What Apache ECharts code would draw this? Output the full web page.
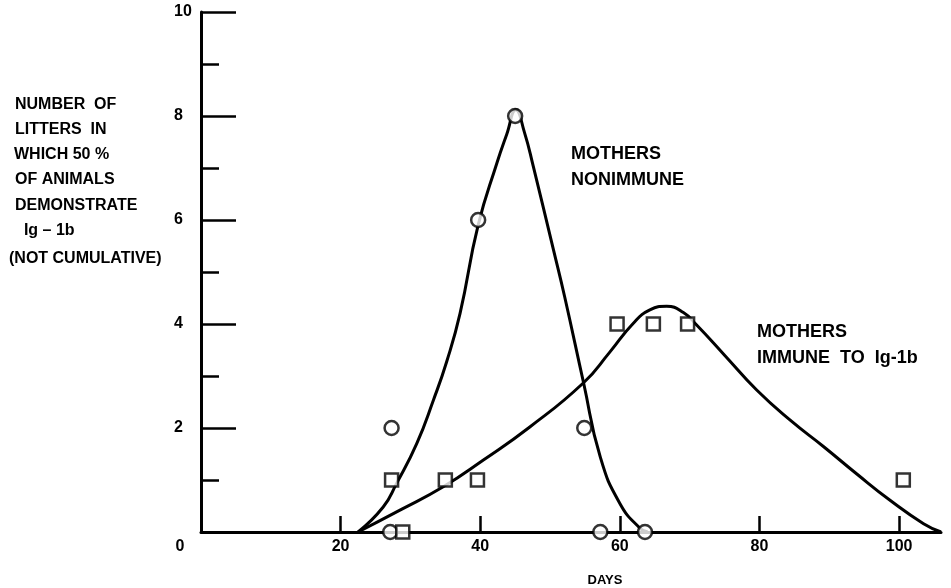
<!DOCTYPE html>
<html>
<head>
<meta charset="utf-8">
<script src="https://cdn.jsdelivr.net/npm/echarts@6/dist/echarts.min.js"></script>
<style>
  html, body { margin: 0; padding: 0; background: #ffffff; }
  #chart { width: 951px; height: 588px; }
</style>
</head>
<body>
<div id="chart"></div>
<script>
// ---- data ----
var xTickValues = [20, 40, 60, 80, 100];
var yTickValues = [2, 4, 6, 8, 10];

// fitted curve, mothers nonimmune (days, litters)
var nonimmuneCurveX = [22.5, 26.1, 28.0, 30.9, 33.3, 35.2, 37.1, 39.7, 42.4, 43.8, 45.1, 46.3, 47.6, 50.5, 52.1, 54.8, 57.2, 60.0, 62.9, 64.0];
var nonimmuneCurveY = [0, 0.48, 0.93, 1.70, 2.54, 3.28, 4.2, 5.9, 7.1, 7.65, 8.12, 7.7, 7.03, 5.42, 4.52, 2.87, 1.44, 0.55, 0.07, 0];

// fitted curve, mothers immune to Ig-1b
var immuneCurveX = [22.5, 28.5, 34.7, 40.4, 47.1, 54.8, 58.5, 61.9, 64.3, 66.7, 69.1, 71.0, 75.0, 79.6, 84.4, 89.2, 93.9, 98.7, 103.5, 106.0];
var immuneCurveY = [0, 0.42, 0.87, 1.38, 2.02, 2.87, 3.45, 4.01, 4.27, 4.34, 4.22, 3.98, 3.40, 2.73, 2.15, 1.64, 1.12, 0.61, 0.16, 0];

// observed points
var nonimmuneX = [27.1, 27.3, 39.7, 45.0, 54.9, 57.2, 63.6];
var nonimmuneY = [0, 2, 6, 8, 2, 0, 0];
var immuneX = [27.3, 28.9, 35.0, 39.6, 59.6, 64.8, 69.7, 100.6];
var immuneY = [1, 0, 1, 1, 4, 4, 4, 1];

var yTitleLines = ['NUMBER  OF', 'LITTERS  IN', 'WHICH 50 %', 'OF ANIMALS', 'DEMONSTRATE', '  Ig \u2013 1b', '(NOT CUMULATIVE)'];

function pairs(xs, ys) { return xs.map(function (x, i) { return [x, ys[i]]; }); }

var FONT = '"Liberation Sans", Arial, sans-serif';
var chart = echarts.init(document.getElementById('chart'), null, { renderer: 'canvas' });

var yTitleTops = [105, 130, 155, 180, 205.5, 230.5, 258.5];
var yTitleLefts = [15, 15, 14, 15, 15, 15, 9];
var graphics = yTitleLines.map(function (t, i) {
  return { type: 'text', x: yTitleLefts[i], y: yTitleTops[i],
    style: { text: t, fill: '#000', font: 'bold 16px ' + FONT, align: 'left', verticalAlign: 'middle' } };
});
graphics.push({ type: 'text', x: 180, y: 547, style: { text: '0', fill: '#000', font: 'bold 16px ' + FONT, align: 'center', verticalAlign: 'middle' } });
graphics.push({ type: 'text', x: 605, y: 580, style: { text: 'DAYS', fill: '#000', font: 'bold 13px ' + FONT, align: 'center', verticalAlign: 'middle' } });
graphics.push({ type: 'text', x: 571, y: 154, style: { text: 'MOTHERS', fill: '#000', font: 'bold 18px ' + FONT, align: 'left', verticalAlign: 'middle' } });
graphics.push({ type: 'text', x: 571, y: 180, style: { text: 'NONIMMUNE', fill: '#000', font: 'bold 18px ' + FONT, align: 'left', verticalAlign: 'middle' } });
graphics.push({ type: 'text', x: 757, y: 332, style: { text: 'MOTHERS', fill: '#000', font: 'bold 18px ' + FONT, align: 'left', verticalAlign: 'middle' } });
graphics.push({ type: 'text', x: 757, y: 358, style: { text: 'IMMUNE  TO  Ig-1b', fill: '#000', font: 'bold 18px ' + FONT, align: 'left', verticalAlign: 'middle' } });

var option = {
  backgroundColor: '#ffffff',
  animation: false,
  grid: { left: 201, right: 10, top: 12, bottom: 56, containLabel: false },
  xAxis: {
    type: 'value', min: 0, max: 106,
    splitLine: { show: false },
    axisLine: { show: true, onZero: false, lineStyle: { color: '#000', width: 3 } },
    axisTick: { show: true, inside: true, length: 16, customValues: xTickValues, lineStyle: { color: '#000', width: 2.5 } },
    axisLabel: { show: true, customValues: xTickValues, margin: 7, color: '#000', fontFamily: FONT, fontWeight: 'bold', fontSize: 16 }
  },
  yAxis: {
    type: 'value', min: 0, max: 10, interval: 2,
    splitLine: { show: false },
    axisLine: { show: true, onZero: false, lineStyle: { color: '#000', width: 3 } },
    axisTick: { show: true, inside: true, length: 35, lineStyle: { color: '#000', width: 2.5 } },
    minorTick: { show: true, splitNumber: 2, length: 18, lineStyle: { color: '#000', width: 2.5 } },
    minorSplitLine: { show: false },
    axisLabel: { show: true, customValues: yTickValues, align: 'left', margin: 27, color: '#000', fontFamily: FONT, fontWeight: 'bold', fontSize: 16 }
  },
  graphic: graphics,
  series: [
    { type: 'line', name: 'nonimmune curve', data: pairs(nonimmuneCurveX, nonimmuneCurveY), showSymbol: false, smooth: 0.5,
      lineStyle: { color: '#000', width: 3 }, z: 2, clip: false },
    { type: 'line', name: 'immune curve', data: pairs(immuneCurveX, immuneCurveY), showSymbol: false, smooth: 0.5,
      lineStyle: { color: '#000', width: 3 }, z: 2, clip: false },
    { type: 'scatter', name: 'Mothers nonimmune', data: pairs(nonimmuneX, nonimmuneY), symbol: 'circle', symbolSize: 14,
      itemStyle: { color: '#fff', borderColor: '#000', borderWidth: 2.5 }, z: 5, clip: false },
    { type: 'scatter', name: 'Mothers immune to Ig-1b', data: pairs(immuneX, immuneY), symbol: 'rect', symbolSize: 13,
      itemStyle: { color: '#fff', borderColor: '#000', borderWidth: 2.5 }, z: 5, clip: false }
  ]
};
chart.setOption(option);
</script>
</body>
</html>
